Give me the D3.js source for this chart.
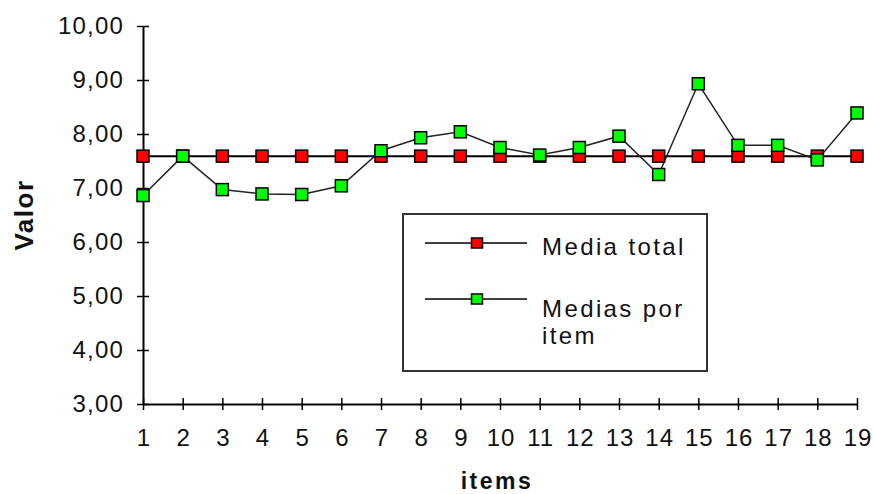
<!DOCTYPE html>
<html>
<head>
<meta charset="utf-8">
<script src="https://cdn.jsdelivr.net/npm/d3@7"></script>
<style>
  html, body { margin: 0; padding: 0; background: #fff; }
  svg { display: block; }
  text { font-family: "Liberation Sans", Arial, sans-serif; fill: #111; }
</style>
</head>
<body>
<svg id="chart" width="873" height="494"></svg>
<script>
// Item numbers along the x axis
const items = [1, 2, 3, 4, 5, 6, 7, 8, 9, 10, 11, 12, 13, 14, 15, 16, 17, 18, 19];
// Overall mean, repeated for every item
const mediaTotal = [7.59, 7.59, 7.59, 7.59, 7.59, 7.59, 7.59, 7.59, 7.59, 7.59,
                    7.59, 7.59, 7.59, 7.59, 7.59, 7.59, 7.59, 7.59, 7.59];
// Mean score of each item
const mediasPorItem = [6.86, 7.59, 6.97, 6.89, 6.88, 7.04, 7.69, 7.93, 8.04, 7.75,
                       7.61, 7.75, 7.96, 7.25, 8.93, 7.79, 7.79, 7.52, 8.39];
// Y axis tick values
const yTicks = [3, 4, 5, 6, 7, 8, 9, 10];
const seriesNames = ["Media total", "Medias por item"];

const svg = d3.select("#chart");
const x = d3.scaleLinear().domain([1, 19]).range([143, 857]);
const y = d3.scaleLinear().domain([3, 10]).range([404, 26]);
const fmt = v => d3.format(".2f")(v).replace(".", ",");
const FONT = "'Liberation Sans', Arial, sans-serif";

// Y axis
const yAxis = svg.append("g").attr("transform", "translate(143,0)")
  .call(d3.axisLeft(y).tickValues(yTicks).tickFormat(fmt).tickSize(6).tickSizeOuter(0).tickPadding(14));
yAxis.select(".domain").attr("stroke", "#000").attr("stroke-width", 2);
yAxis.selectAll(".tick line").attr("x1", 6).attr("x2", -6).attr("stroke", "#000").attr("stroke-width", 1.5);
yAxis.selectAll(".tick text").attr("font-size", 24).attr("fill", "#111")
  .attr("font-family", FONT).attr("letter-spacing", 1.2).attr("x", -19);

// X axis
const xAxis = svg.append("g").attr("transform", "translate(0,404)")
  .call(d3.axisBottom(x).tickValues(items).tickFormat(d3.format("d")).tickSize(6).tickSizeOuter(0).tickPadding(18));
xAxis.select(".domain").attr("stroke", "#000").attr("stroke-width", 2);
xAxis.selectAll(".tick line").attr("y1", -6).attr("y2", 6).attr("stroke", "#000").attr("stroke-width", 1.5);
xAxis.selectAll(".tick text").attr("font-size", 24).attr("fill", "#111")
  .attr("font-family", FONT).attr("letter-spacing", 1).attr("dx", 0.5)
  .attr("y", 42).attr("dy", 0);

// Axis titles
svg.append("text").attr("transform", "translate(33,215) rotate(-90)")
  .attr("text-anchor", "middle").attr("font-size", 26).attr("font-weight", "bold")
  .attr("letter-spacing", 1.5).text("Valor");
svg.append("text").attr("x", 497).attr("y", 489)
  .attr("text-anchor", "middle").attr("font-size", 23).attr("font-weight", "bold")
  .attr("letter-spacing", 2.5).text("items");

const line = d3.line().x((d, i) => x(items[i])).y(d => y(d));

// Lines
svg.append("path").datum(mediaTotal).attr("d", line)
  .attr("fill", "none").attr("stroke", "#000").attr("stroke-width", 2);
svg.append("path").datum(mediasPorItem).attr("d", line)
  .attr("fill", "none").attr("stroke", "#222").attr("stroke-width", 1.5);

// Square markers
const m = 12;
function markers(data, color) {
  svg.append("g").selectAll("rect").data(data).join("rect")
    .attr("x", (d, i) => x(items[i]) - m / 2)
    .attr("y", d => y(d) - m / 2)
    .attr("width", m).attr("height", m)
    .attr("fill", color).attr("stroke", "#000").attr("stroke-width", 1.5);
}
markers(mediaTotal, "#ff0000");
markers(mediasPorItem, "#00ff00");

// Legend
const lg = svg.append("g");
lg.append("rect").attr("x", 403).attr("y", 214).attr("width", 304).attr("height", 157)
  .attr("fill", "#fff").attr("stroke", "#333").attr("stroke-width", 2);
const legendRows = [
  { name: seriesNames[0], color: "#ff0000", cy: 243, lines: ["Media total"], base: [255] },
  { name: seriesNames[1], color: "#00ff00", cy: 299, lines: ["Medias por", "item"], base: [317, 344] }
];
legendRows.forEach(r => {
  lg.append("line").attr("x1", 425).attr("x2", 527).attr("y1", r.cy).attr("y2", r.cy)
    .attr("stroke", "#000").attr("stroke-width", 1.5);
  lg.append("rect").attr("x", 477 - 5.5).attr("y", r.cy - 5).attr("width", 11).attr("height", 10)
    .attr("fill", r.color).attr("stroke", "#000").attr("stroke-width", 1.5);
  r.lines.forEach((t, k) => {
    lg.append("text").attr("x", 542).attr("y", r.base[k])
      .attr("font-size", 24).attr("letter-spacing", 2.4).text(t);
  });
});
</script>
</body>
</html>
